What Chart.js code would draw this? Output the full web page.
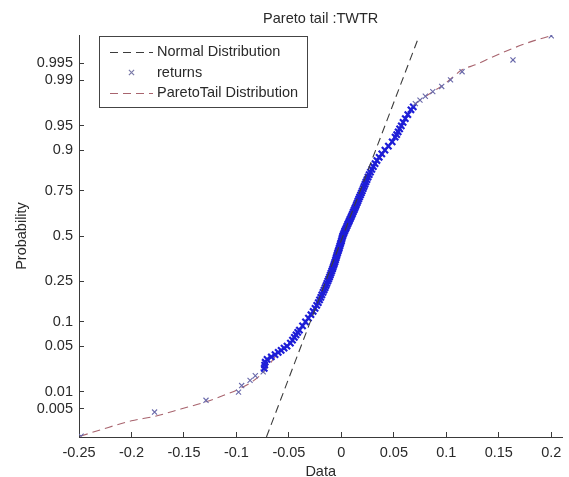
<!DOCTYPE html>
<html><head><meta charset="utf-8">
<script src="https://cdn.jsdelivr.net/npm/chart.js@4/dist/chart.umd.min.js"></script>
<style>html,body{margin:0;padding:0;background:#fff}#wrap{width:569px;height:477px}</style>
</head><body><div id="wrap"><canvas id="c" width="569" height="477"></canvas></div>
<script>
const titleText = 'Pareto tail :TWTR';
const xAxisTitle = 'Data';
const yAxisTitle = 'Probability';
const seriesNames = ['Normal Distribution', 'returns', 'ParetoTail Distribution'];
const xTicks = [-0.25, -0.2, -0.15, -0.1, -0.05, 0, 0.05, 0.1, 0.15, 0.2];
const probTicks = [0.005, 0.01, 0.05, 0.1, 0.25, 0.5, 0.75, 0.9, 0.95, 0.99, 0.995];
const probTickLabels = ['0.005', '0.01', '0.05', '0.1', '0.25', '0.5', '0.75', '0.9', '0.95', '0.99', '0.995'];

// returns (sorted data value, plotted probability)
const returnsX = [-0.248,-0.178,-0.129,-0.098,-0.095,-0.087,-0.082,-0.0745,-0.0735,-0.0731,-0.0726,-0.0708,-0.0668,-0.0632,-0.0602,-0.0574,-0.0546,-0.0518,-0.0486,-0.0466,-0.0448,-0.0432,-0.0416,-0.0400,-0.0370,
 -0.0342,-0.0314,-0.0290,-0.0269,-0.0251,-0.0235,-0.0220,-0.0208,-0.0196,-0.0186,-0.0175,
 -0.0165,-0.0155,-0.0146,-0.0138,-0.0129,
 -0.0121,-0.0113,-0.0106,-0.0099,-0.0092,
 -0.0085,-0.0079,-0.0073,-0.0067,-0.0061,
 -0.0056,-0.0051,-0.0046,-0.0041,-0.0036,
 -0.0031,-0.0025,-0.0020,-0.0015,-0.0010,
 -0.0005,0.0000,0.0004,0.0008,0.0013,
 0.0019,0.0026,0.0032,0.0039,0.0047,
 0.0054,0.0061,0.0069,0.0076,0.0083,
 0.0091,0.0098,0.0106,0.0113,0.0121,
 0.0128,0.0136,0.0143,0.0151,0.0158,
 0.0166,0.0174,0.0183,0.0191,0.0199,
 0.0208,0.0216,0.0225,0.0234,0.0244,
 0.0254,0.0265,0.0277,0.0290,0.0305,
 0.0321,0.0339,0.0360,0.0385,0.0415,
 0.0448,0.0484,0.0512,
 0.0527,0.0541,0.0555,0.0571,0.0588,0.0609,0.0633,0.0663,0.0685,0.0705,0.0749,0.0800,0.0871,0.0956,0.1040,0.1150,0.1635,0.2000];
const returnsP = [0.0014,0.0043,0.0071,0.0099,0.0128,0.0156,0.0185,0.0213,0.0241,0.027,0.0298,0.0327,0.0355,0.0384,0.0412,0.044,0.047,0.05,0.055,0.06,0.065,0.07,0.075,0.08,0.09,
 0.10,0.11,0.12,0.13,0.14,0.15,0.16,0.17,0.18,0.19,0.20,
 0.21,0.22,0.23,0.24,0.25,
 0.26,0.27,0.28,0.29,0.30,
 0.31,0.32,0.33,0.34,0.35,
 0.36,0.37,0.38,0.39,0.40,
 0.41,0.42,0.43,0.44,0.45,
 0.46,0.47,0.48,0.49,0.50,
 0.51,0.52,0.53,0.54,0.55,
 0.56,0.57,0.58,0.59,0.60,
 0.61,0.62,0.63,0.64,0.65,
 0.66,0.67,0.68,0.69,0.70,
 0.71,0.72,0.73,0.74,0.75,
 0.76,0.77,0.78,0.79,0.80,
 0.81,0.82,0.83,0.84,0.85,
 0.86,0.87,0.88,0.89,0.90,
 0.91,0.92,0.93,
 0.935,0.94,0.945,0.95,0.955,0.96,0.965,0.9702,0.973,0.9759,0.9787,0.9815,0.9844,0.9872,0.9901,0.9929,0.9957,0.9986];

// Pareto tail fitted distribution
const paretoX = [-0.249,-0.222,-0.200,-0.178,-0.153,-0.129,-0.109,-0.0964,-0.0839,-0.0761,-0.070,-0.063,-0.055,-0.047,-0.040,-0.030,-0.020,-0.010,0.000,0.010,0.020,0.030,0.040,0.050,0.060,0.070,0.080,0.090,0.100,0.115,0.1275,0.1432,0.1620,0.1808,0.1996];
const paretoP = [0.0014,0.00214,0.00291,0.00355,0.0049,0.00668,0.00914,0.01145,0.0153,0.0196,0.0256,0.0359,0.0465,0.0594,0.0808,0.1151,0.166,0.2843,0.4801,0.6217,0.7454,0.8461,0.8907,0.9279,0.9582,0.975,0.9812,0.9854,0.989,0.99343,0.99468,0.99618,0.99738,0.99814,0.9986];

// Normal reference line (end points)
const normalX = [-0.0714, 0.0727];
const normalP = [0.00135, 0.9983];

// inverse standard normal CDF (probability-axis transform)
function norminv(p){
  const a=[-3.969683028665376e+01,2.209460984245205e+02,-2.759285104469687e+02,1.383577518672690e+02,-3.066479806614716e+01,2.506628277459239e+00];
  const b=[-5.447609879822406e+01,1.615858368580409e+02,-1.556989798598866e+02,6.680131188771972e+01,-1.328068155288572e+01];
  const c=[-7.784894002430293e-03,-3.223964580411365e-01,-2.400758277161838e+00,-2.549732539343734e+00,4.374664141464968e+00,2.938163982698783e+00];
  const d=[7.784695709041462e-03,3.224671290700398e-01,2.445134137142996e+00,3.754408661907416e+00];
  const pl=0.02425, ph=1-pl; let q,r;
  if(p<pl){q=Math.sqrt(-2*Math.log(p));return (((((c[0]*q+c[1])*q+c[2])*q+c[3])*q+c[4])*q+c[5])/((((d[0]*q+d[1])*q+d[2])*q+d[3])*q+1);}
  if(p>ph){q=Math.sqrt(-2*Math.log(1-p));return -(((((c[0]*q+c[1])*q+c[2])*q+c[3])*q+c[4])*q+c[5])/((((d[0]*q+d[1])*q+d[2])*q+d[3])*q+1);}
  q=p-0.5;r=q*q;return (((((a[0]*r+a[1])*r+a[2])*r+a[3])*r+a[4])*r+a[5])*q/(((((b[0]*r+b[1])*r+b[2])*r+b[3])*r+b[4])*r+1);
}
const pts = (xs, ps) => xs.slice(0, Math.min(xs.length, ps.length)).map((x, i) => ({x: x, y: norminv(ps[i])}));

const FONT = "'Liberation Sans', Arial, Helvetica, sans-serif";
const TXT = '#2a2a2a';
const AX = '#3a3a3a';
const BLUE = 'rgb(30,30,215)';
const TAILBLUE = 'rgb(105,105,170)';
const RED = '#a8646e';
const BLACK = '#3c3c3c';
const zLo = norminv(0.022), zHi = norminv(0.975);
const isDense = c => c.raw && c.raw.y > zLo && c.raw.y < zHi;

const boxLegend = {
  id: 'boxLegend',
  afterDraw(chart) {
    const ctx = chart.ctx, ca = chart.chartArea;
    const x0 = ca.left + 20, y0 = ca.top + 1, w = 208, h = 71;
    ctx.save();
    ctx.fillStyle = '#fff'; ctx.fillRect(x0, y0, w, h);
    ctx.strokeStyle = '#444'; ctx.lineWidth = 1;
    ctx.strokeRect(Math.round(x0) + 0.5, Math.round(y0) + 0.5, w, h);
    ctx.font = '14.5px ' + FONT; ctx.textBaseline = 'middle'; ctx.textAlign = 'left';
    chart.data.datasets.forEach((ds, i) => {
      const y = y0 + 15.7 + i * 20.8;
      const lx1 = x0 + 11, lx2 = x0 + 54;
      if (ds.showLine) {
        ctx.save();
        ctx.strokeStyle = ds.borderColor; ctx.lineWidth = ds.borderWidth;
        ctx.setLineDash(ds.borderDash || []);
        ctx.beginPath(); ctx.moveTo(lx1, Math.round(y) + 0.5); ctx.lineTo(lx2, Math.round(y) + 0.5); ctx.stroke();
        ctx.restore();
      } else {
        const cx = (lx1 + lx2) / 2, r = 2.6;
        ctx.save(); ctx.strokeStyle = '#7a7aa8'; ctx.lineWidth = 1.2;
        ctx.beginPath(); ctx.moveTo(cx - r, y - r); ctx.lineTo(cx + r, y + r);
        ctx.moveTo(cx - r, y + r); ctx.lineTo(cx + r, y - r); ctx.stroke(); ctx.restore();
      }
      ctx.fillStyle = TXT;
      ctx.fillText(ds.label, x0 + 58, y);
    });
    ctx.restore();
  }
};

new Chart(document.getElementById('c'), {
  type: 'scatter',
  data: {
    datasets: [
      { label: seriesNames[0], data: pts(normalX, normalP), showLine: true, borderColor: BLACK, borderWidth: 1.1,
        borderDash: [8, 5], pointRadius: 0, fill: false },
      { label: seriesNames[1], data: pts(returnsX, returnsP), showLine: false, pointStyle: 'crossRot',
        pointRadius: c => isDense(c) ? 4.4 : 3.6,
        pointBorderWidth: c => isDense(c) ? 2.2 : 1.1,
        pointBorderColor: c => isDense(c) ? BLUE : TAILBLUE,
        borderColor: BLUE, backgroundColor: BLUE },
      { label: seriesNames[2], data: pts(paretoX, paretoP), showLine: true, borderColor: RED, borderWidth: 1.1,
        borderDash: [8, 5], pointRadius: 0, fill: false, cubicInterpolationMode: 'monotone' }
    ]
  },
  options: {
    responsive: false, animation: false, devicePixelRatio: 1,
    layout: { padding: 0 },
    plugins: {
      legend: { display: false },
      tooltip: { enabled: false },
      title: { display: true, text: titleText, fullSize: false, color: TXT,
        font: { family: FONT, size: 14.5, weight: 'normal' }, padding: { top: 10, bottom: 7.6 } }
    },
    scales: {
      x: {
        type: 'linear', min: -0.25, max: 0.2106,
        afterBuildTicks: s => { s.ticks = xTicks.map(v => ({ value: v })); },
        ticks: { autoSkip: false, maxRotation: 0, padding: 12, color: TXT,
          font: { family: FONT, size: 14.5 }, callback: v => String(Math.round(v * 100) / 100) },
        grid: { display: true, drawOnChartArea: false, drawTicks: true, tickLength: -5, color: AX },
        border: { display: true, color: AX, width: 1 },
        title: { display: true, text: xAxisTitle, color: TXT, font: { family: FONT, size: 14.5 }, padding: { top: 0, bottom: -4 } },
        afterFit: s => { s.height = 40; s.paddingLeft = 0; s.paddingRight = 0; }
      },
      y: {
        type: 'linear', min: -3, max: 3,
        afterBuildTicks: s => { s.ticks = probTicks.map(p => ({ value: norminv(p) })); },
        ticks: { autoSkip: false, padding: 11, color: TXT, font: { family: FONT, size: 14.5 },
          callback: (v, i) => probTickLabels[i] },
        grid: { display: true, drawOnChartArea: false, drawTicks: true, tickLength: -5, color: AX },
        border: { display: true, color: AX, width: 1 },
        title: { display: true, text: yAxisTitle, color: TXT, font: { family: FONT, size: 14.5 }, padding: { top: 13, bottom: 0 } },
        afterFit: s => { s.width = 79; s.paddingTop = 0; s.paddingBottom = 0; }
      }
    }
  },
  plugins: [boxLegend]
});
</script>
</body></html>
